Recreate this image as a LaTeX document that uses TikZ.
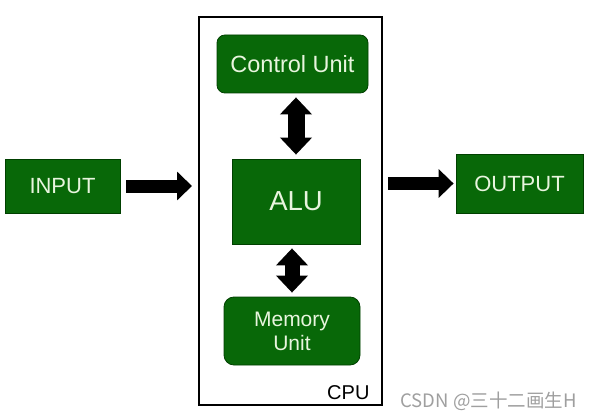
\documentclass[tikz,border=0pt]{standalone}
\usepackage{fontspec}
\setmainfont{Liberation Sans}
\newfontfamily\cjkfont{Noto Sans CJK SC}
\usetikzlibrary{arrows.meta}
\definecolor{unitgreen}{RGB}{8,104,8}
\definecolor{unitedge}{RGB}{0,64,0}
\definecolor{unittext}{RGB}{232,245,222}
\begin{document}
\begin{tikzpicture}[x=1pt,y=-1pt,
  unit/.style={draw=unitedge,fill=unitgreen,text=unittext,line width=0.8pt,
    inner sep=0pt,align=center,font=\fontsize{22}{24}\selectfont},
  bus/.style={line width=13pt,-{Triangle[length=15pt,width=28pt]}},
  link/.style={line width=#1,{Triangle[length=17pt,width=31pt]}-{Triangle[length=17pt,width=31pt]}}]
  \useasboundingbox[fill=white] (0,0) rectangle (595,420);
  % the CPU frame
  \node[draw,line width=2pt,minimum width=183pt,minimum height=388pt,inner sep=0pt] (cpu) at (290.5,211) {};
  \node[anchor=base east,font=\fontsize{20}{22}\selectfont] (cpulabel)
    at ([xshift=-10pt,yshift=7pt]cpu.south east) {CPU};
  % units inside
  \node[unit,rounded corners=8pt,minimum width=151pt,minimum height=58pt,font=\fontsize{23.5}{26}\selectfont] (cu) at (292.5,64) {Control Unit};
  \node[unit,minimum width=128pt,minimum height=85pt,font=\fontsize{27.5}{30}\selectfont] (alu) at (296,201.5) {ALU};
  \node[unit,rounded corners=10pt,minimum width=136pt,minimum height=68pt,font=\fontsize{21}{24}\selectfont] (mem) at (292,331) {Memory\\Unit};
  % outside
  \node[unit,minimum width=115pt,minimum height=54pt] (input) at (62.5,186) {INPUT};
  \node[unit,minimum width=127pt,minimum height=59pt] (output) at (519.5,183.5) {OUTPUT};
  % arrows
  \draw[bus,shorten <=6pt,shorten >=6pt] (input.east) -- (input.east -| cpu.west);
  \draw[bus,shorten <=5pt,shorten >=2pt] (output.west -| cpu.east) -- (output.west);
  \draw[link=17pt,shorten <=4pt,shorten >=4pt] (alu.north |- cu.south) -- (alu.north);
  \draw[link=15pt,shorten <=4pt,shorten >=4pt] (mem.north |- alu.south) -- (mem.north);
  \node[anchor=base west,text=gray!75,font=\cjkfont\fontsize{18.5}{20}\selectfont] (mark) at (397,407) {CSDN @三十二画生H};
\end{tikzpicture}
\end{document}
